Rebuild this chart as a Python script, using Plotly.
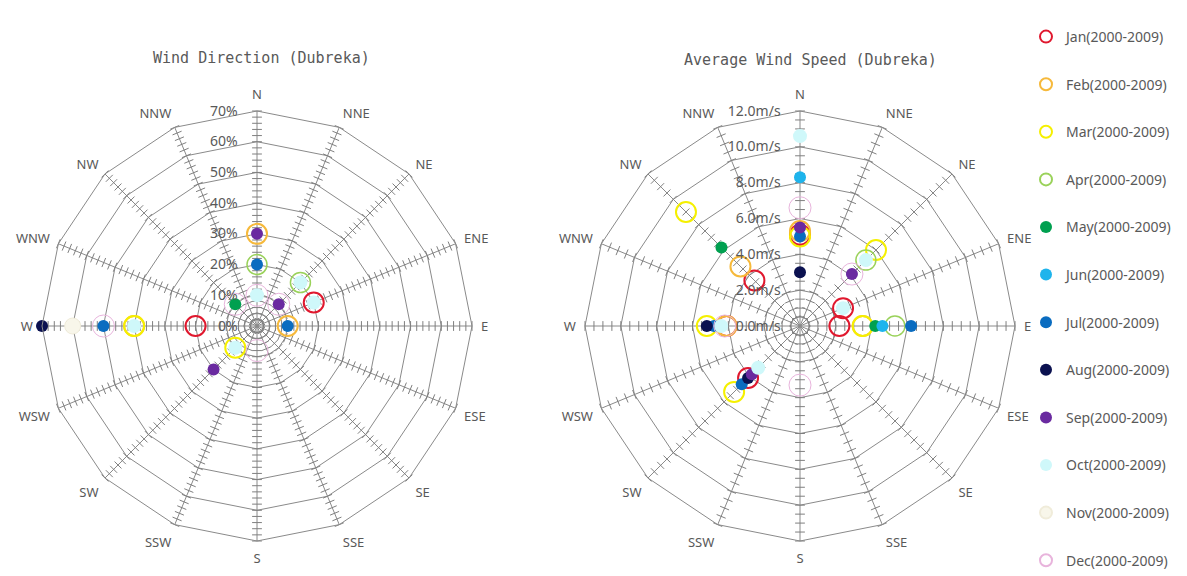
import plotly.graph_objects as go

directions = ["N", "NNE", "NE", "ENE", "E", "ESE", "SE", "SSE",
              "S", "SSW", "SW", "WSW", "W", "WNW", "NW", "NNW"]
direction_deg = [i * 22.5 for i in range(16)]

months = ["Jan(2000-2009)", "Feb(2000-2009)", "Mar(2000-2009)", "Apr(2000-2009)",
          "May(2000-2009)", "Jun(2000-2009)", "Jul(2000-2009)", "Aug(2000-2009)",
          "Sep(2000-2009)", "Oct(2000-2009)", "Nov(2000-2009)", "Dec(2000-2009)"]

# Wind direction frequency (%) per month, order of `directions`
freq_jan = [0, 0, 0, 20, 0, 0, 0, 0, 0, 0, 0, 0, 20, 0, 0, 0]
freq_feb = [30, 0, 0, 0, 10, 0, 0, 0, 0, 0, 0, 0, 40, 0, 0, 0]
freq_mar = [0, 0, 0, 0, 0, 0, 0, 0, 0, 0, 10, 0, 40, 0, 0, 0]
freq_apr = [20, 0, 20, 0, 0, 0, 0, 0, 0, 0, 0, 0, 0, 0, 0, 0]
freq_may = [0, 0, 0, 0, 0, 0, 0, 0, 0, 0, 0, 0, 0, 0, 10, 0]
freq_jun = [0, 0, 0, 0, 0, 0, 0, 0, 0, 0, 0, 0, 0, 0, 0, 0]
freq_jul = [20, 0, 0, 0, 10, 0, 0, 0, 0, 0, 0, 0, 50, 0, 0, 0]
freq_aug = [0, 0, 0, 0, 0, 0, 0, 0, 0, 0, 0, 0, 70, 0, 0, 0]
freq_sep = [30, 0, 10, 0, 0, 0, 0, 0, 0, 0, 20, 0, 0, 0, 0, 0]
freq_oct = [10, 0, 20, 20, 0, 0, 0, 0, 0, 0, 10, 0, 40, 0, 0, 0]
freq_nov = [0, 0, 0, 0, 0, 0, 0, 0, 0, 0, 0, 0, 60, 0, 0, 0]
freq_dec = [10, 0, 10, 0, 0, 0, 0, 0, 8, 0, 0, 0, 50, 0, 10, 0]

# Average wind speed (m/s) per month, order of `directions`
spd_jan = [5.1, 0, 0, 2.6, 2.2, 0, 0, 0, 0, 0, 4.1, 0, 4.1, 0, 3.6, 0]
spd_feb = [5.3, 0, 0, 0, 3.5, 0, 0, 0, 0, 0, 0, 0, 4.1, 0, 4.7, 0]
spd_mar = [5.0, 0, 6.0, 0, 3.5, 0, 0, 0, 0, 0, 5.2, 0, 5.2, 0, 9.0, 0]
spd_apr = [0, 0, 5.2, 0, 5.3, 0, 0, 0, 0, 0, 0, 0, 0, 0, 0, 0]
spd_may = [0, 0, 0, 0, 4.2, 0, 0, 0, 0, 0, 0, 0, 0, 0, 6.2, 0]
spd_jun = [8.3, 0, 0, 0, 4.6, 0, 0, 0, 0, 0, 0, 0, 4.4, 0, 0, 0]
spd_jul = [5.0, 0, 0, 0, 6.2, 0, 0, 0, 0, 0, 4.6, 0, 4.8, 0, 0, 0]
spd_aug = [3.0, 0, 0, 0, 0, 0, 0, 0, 0, 0, 4.1, 0, 5.2, 0, 0, 0]
spd_sep = [5.5, 0, 4.1, 0, 0, 0, 0, 0, 0, 0, 3.8, 0, 0, 0, 0, 0]
spd_oct = [10.6, 0, 5.2, 2.6, 0, 0, 0, 0, 0, 0, 3.3, 0, 4.4, 0, 0, 0]
spd_nov = [0, 0, 0, 0, 0, 0, 0, 0, 0, 0, 0, 0, 0, 0, 0, 0]
spd_dec = [6.6, 0, 4.1, 0, 0, 0, 0, 0, 3.3, 0, 0, 0, 4.2, 0, 0, 0]

freq_all = [freq_jan, freq_feb, freq_mar, freq_apr, freq_may, freq_jun,
            freq_jul, freq_aug, freq_sep, freq_oct, freq_nov, freq_dec]
spd_all = [spd_jan, spd_feb, spd_mar, spd_apr, spd_may, spd_jun,
           spd_jul, spd_aug, spd_sep, spd_oct, spd_nov, spd_dec]

# marker styles per month: (fill, line colour, size, line width)
styles = [
    ("rgba(0,0,0,0)", "#E0182E", 20, 2),
    ("rgba(0,0,0,0)", "#F6B93B", 20, 2),
    ("rgba(0,0,0,0)", "#F5F000", 20, 2),
    ("rgba(0,0,0,0)", "#9AD25A", 20, 1.5),
    ("#00A050", "#00A050", 12, 0),
    ("#1EB4EC", "#1EB4EC", 12, 0),
    ("#0A6CC0", "#0A6CC0", 12, 0),
    ("#0B1150", "#0B1150", 12, 0),
    ("#6A2AA0", "#6A2AA0", 12, 0),
    ("#CFF8FA", "#CFF8FA", 14, 0),
    ("#F8F6EA", "#F0ECDA", 16, 1),
    ("rgba(0,0,0,0)", "#E8B4DC", 22, 1),
]

GRID = "#8A8A8A"
TXT = "#595959"
FONT = "Noto Sans"
W, H = 1187, 576

fig = go.Figure()

# spoke tick marks (axis decoration)
def spoke_ticks(step, rmax, sub):
    rs, ts, angs = [], [], []
    n = int(round(rmax / step))
    for d, deg in zip(directions, direction_deg):
        for k in range(1, n + 1):
            rs.append(k * step)
            ts.append(d)
            angs.append(deg)
    fig.add_trace(go.Scatterpolar(
        r=rs, theta=ts, mode="markers", subplot=sub, showlegend=False,
        hoverinfo="skip",
        marker=dict(symbol="line-ew", size=7, angle=angs,
                    line=dict(color="#7F7F7F", width=1)),
    ))

spoke_ticks(2, 70, "polar")
spoke_ticks(0.5, 12, "polar2")

for i, m in enumerate(months):
    fill, lc, sz, lw = styles[i]
    mk = dict(color=fill, size=sz, line=dict(color=lc, width=lw))
    fig.add_trace(go.Scatterpolar(
        r=freq_all[i], theta=directions, mode="markers", name=m,
        legendgroup=m, marker=mk, subplot="polar", showlegend=True,
    ))
    fig.add_trace(go.Scatterpolar(
        r=spd_all[i], theta=directions, mode="markers", name=m,
        legendgroup=m, marker=mk, subplot="polar2", showlegend=False,
    ))

def polar_layout(cx, rng, tickvals, ticktext):
    cy, rad = 326, 215
    return dict(
        domain=dict(x=[(cx - rad) / W, (cx + rad) / W],
                    y=[1 - (cy + rad) / H, 1 - (cy - rad) / H]),
        gridshape="linear",
        bgcolor="white",
        radialaxis=dict(
            range=rng, tickvals=tickvals, ticktext=ticktext,
            showline=False, gridcolor=GRID, gridwidth=1, angle=90,
            side="counterclockwise", tickangle=90,
            ticks="outside", ticklen=14, tickcolor="rgba(0,0,0,0)",
            tickfont=dict(family=FONT, size=14, color=TXT),
        ),
        angularaxis=dict(
            type="category", categoryarray=directions, direction="clockwise",
            rotation=90, gridcolor=GRID, linecolor=GRID, showline=True,
            ticks="outside", ticklen=6, tickcolor="rgba(0,0,0,0)",
            tickfont=dict(family=FONT, size=13, color=TXT),
        ),
    )

freq_ticks = list(range(0, 71, 10))
spd_ticks = [0, 2, 4, 6, 8, 10, 12]

fig.update_layout(
    width=W, height=H,
    margin=dict(l=0, r=0, t=0, b=0),
    paper_bgcolor="white",
    showlegend=True,
    polar=polar_layout(257, [0, 70], freq_ticks, [f"{v}%" for v in freq_ticks]),
    polar2=polar_layout(800, [0, 12], spd_ticks, [f"{v:.1f}m/s" for v in spd_ticks]),
    legend=dict(
        x=1026 / W, y=1 - 35 / H, xanchor="left", yanchor="top",
        font=dict(family=FONT, size=14, color=TXT),
        tracegroupgap=26.4, itemsizing="constant", bgcolor="rgba(0,0,0,0)",
    ),
    annotations=[
        dict(text="Wind Direction (Dubreka)", x=261 / W, y=1 - 58 / H,
             xref="paper", yref="paper", showarrow=False, xanchor="center",
             yanchor="middle",
             font=dict(family="DejaVu Sans Mono", size=15, color=TXT)),
        dict(text="Average Wind Speed (Dubreka)", x=810 / W, y=1 - 60 / H,
             xref="paper", yref="paper", showarrow=False, xanchor="center",
             yanchor="middle",
             font=dict(family="DejaVu Sans Mono", size=15, color=TXT)),
    ],
)

fig.write_html(
    "out.html",
    config={"displayModeBar": False},
    post_script="document.body.style.margin='0';document.body.style.overflow='hidden';",
)
